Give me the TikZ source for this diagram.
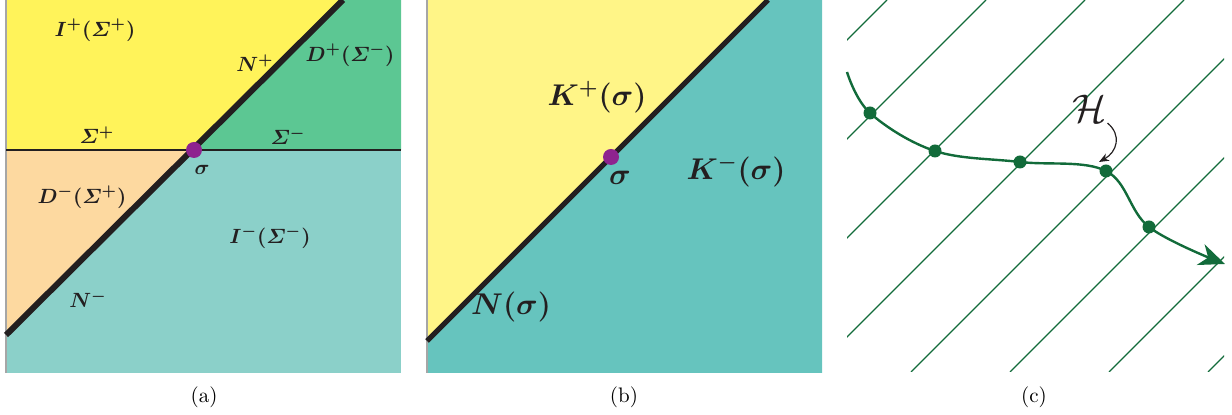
\documentclass[tikz,border=0pt]{standalone}
\usepackage{fix-cm}
\usepackage{amsmath,bm}
\usetikzlibrary{arrows.meta}
\definecolor{txt}{HTML}{231F20}
\definecolor{ayellow}{HTML}{FFF35A}
\definecolor{agreen}{HTML}{5CC793}
\definecolor{apeach}{HTML}{FDD9A0}
\definecolor{ateal}{HTML}{8BD0C9}
\definecolor{byellow}{HTML}{FFF587}
\definecolor{bteal}{HTML}{66C4BE}
\definecolor{purp}{HTML}{8E238F}
\definecolor{dgreen}{HTML}{126B3A}
\begin{document}
\begin{tikzpicture}[x=0.5pt,y=-0.5pt,
  lblA/.style={text=txt, inner sep=0pt, font=\fontsize{10.3}{12}\selectfont},
  lblB/.style={text=txt, inner sep=0pt, font=\fontsize{15}{18}\selectfont},
  capt/.style={text=black, inner sep=0pt, font=\fontsize{10.5}{12}\selectfont},
  pdot/.style={circle, fill=purp, inner sep=0pt, minimum size=8pt},
  gdot/.style={circle, fill=dgreen, inner sep=0pt, minimum size=6.5pt},
  thickline/.style={draw=txt, line width=3pt},
  thinedge/.style={draw=gray!70, line width=0.6pt},
  cline/.style={draw=dgreen, line width=0.55pt},
  gcurve/.style={draw=dgreen, line width=1.2pt, -{Stealth[length=13pt,width=11pt,inset=4pt]}}
]
\useasboundingbox (0,0) rectangle (1232,415);

% ---------- panel (a) ----------
\coordinate (aTL) at (6,0);
\coordinate (aTR) at (401,0);
\coordinate (aBR) at (401,373);
\coordinate (aBL) at (6,373);
\coordinate (aL) at (6,150);
\coordinate (aR) at (401,150);
\coordinate (aNtop) at (343,0);
\coordinate (aNbot) at (6,335);
\coordinate (aS) at (194,150);
\fill[ayellow] (aTL) rectangle (aR);
\fill[agreen] (aNtop) -- (aTR) -- (aR) -- (aS) -- cycle;
\fill[ateal] (aL) rectangle (aBR);
\fill[apeach] (aL) -- (aS) -- (aNbot) -- cycle;
\draw[thinedge] (aTL) -- (aBL);
\draw[draw=txt, line width=1pt] (aL) -- (aR);
\draw[thickline] (aNbot) -- (aNtop);
\node[pdot] (sa) at (aS) {};
\node[lblA] (la1) at (95,30) {$\bm{I^{+}(\varSigma^{+})}$};
\node[lblA] (la2) at (255,63) {$\bm{N^{+}}$};
\node[lblA] (la3) at (350,55) {$\bm{D^{+}(\varSigma^{-})}$};
\node[lblA] (la4) at (97,135) {$\bm{\varSigma^{+}}$};
\node[lblA] (la5) at (288,136) {$\bm{\varSigma^{-}}$};
\node[lblA] (la6) at (202,170) {$\bm{\sigma}$};
\node[lblA] (la7) at (82,197) {$\bm{D^{-}(\varSigma^{+})}$};
\node[lblA] (la8) at (270,237) {$\bm{I^{-}(\varSigma^{-})}$};
\node[lblA] (la9) at (88,299) {$\bm{N^{-}}$};
\node[capt] (capa) at (204,397) {(a)};

% ---------- panel (b) ----------
\coordinate (bTL) at (427,0);
\coordinate (bTR) at (822,0);
\coordinate (bBR) at (822,373);
\coordinate (bBL) at (427,373);
\coordinate (bNtop) at (768,0);
\coordinate (bNbot) at (427,341);
\fill[byellow] (bTL) rectangle (bBR);
\fill[bteal] (bNtop) -- (bTR) -- (bBR) -- (bBL) -- (bNbot) -- cycle;
\draw[thinedge] (bTL) -- (bBL);
\draw[draw=txt, line width=2.6pt] (bNbot) -- (bNtop);
\node[pdot] (sb) at (611,157) {};
\node[lblB] (lb1) at (597,97) {$\bm{K^{+}(\sigma)}$};
\node[lblB] (lb2) at (620,178) {$\bm{\sigma}$};
\node[lblB] (lb3) at (736,171) {$\bm{K^{-}(\sigma)}$};
\node[lblB] (lb4) at (511,307) {$\bm{N(\sigma)}$};
\node[capt] (capb) at (624,397) {(b)};

% ---------- panel (c) ----------
\begin{scope}
\clip (847,0) rectangle (1224,372);
\foreach \c in {887,986,...,1580} \draw[cline] (\c,0) -- (\c-372,372);
\end{scope}
\coordinate (c0) at (847,72);
\node[gdot] (c1) at (870,113) {};
\node[gdot] (c2) at (935,151) {};
\node[gdot] (c3) at (1020,162) {};
\node[gdot] (c4) at (1106,171) {};
\node[gdot] (c5) at (1149,227) {};
\coordinate (cend) at (1225,264);
\draw[gcurve] plot[smooth, tension=0.6] coordinates {(c0) (c1.center) (c2.center) (c3.center) (c4.center) (c5.center) (cend)};
\node[text=txt, inner sep=0pt, font=\fontsize{20}{24}\selectfont] (H) at (1090,109) {$\mathcal{H}$};
\coordinate (Htip) at (1099,162);
\draw[draw=txt, line width=0.6pt, -{Stealth[length=5pt,width=4pt]}] (H.south east) .. controls (1122,135) and (1117,152) .. (Htip);
\node[capt] (capc) at (1034,397) {(c)};
\end{tikzpicture}
\end{document}
